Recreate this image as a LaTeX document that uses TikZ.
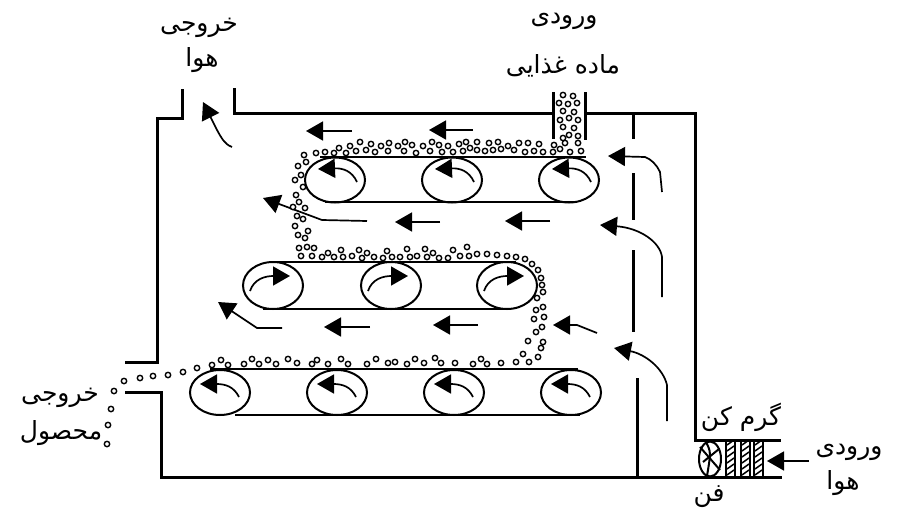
\documentclass[tikz,border=0pt]{standalone}
\usepackage{fontspec}
\newfontfamily\persianfont[Script=Arabic]{DejaVu Sans}
\TeXXeTstate=1
\usetikzlibrary{arrows.meta}
\newcommand{\fa}[1]{\persianfont\beginR #1\endR}
\begin{document}
\begin{tikzpicture}[x=1pt, y=-1pt,
    every node/.style={font=\fontsize{25}{28}\selectfont, inner sep=0pt},
    wall/.style={line width=3pt},
    belt/.style={line width=2pt},
    flow/.style={line width=1.7pt, -{Triangle[length=17pt,width=19pt]}},
    grain/.style={draw, fill=white, line width=1.4pt}]
  \useasboundingbox (0,0) rectangle (900,512);

  % outer walls
  \draw[wall] (182,89) -- (182,118) -- (157,118) -- (157,362) -- (125,362);
  \draw[wall] (125,392) -- (161,392) -- (161,477) -- (782,477);
  \draw[wall] (234,88) -- (234,113) -- (553,113);
  \draw[wall] (585,113) -- (695,113) -- (695,440) -- (781,440);
  \draw[wall] (553,92) -- (553,139);
  \draw[wall] (585,92) -- (585,140);

  % baffle
  \draw[wall] (633,114) -- (633,139);
  \draw[wall] (633,173) -- (633,220);
  \draw[wall] (633,250) -- (633,332);
  \draw[wall] (637,378) -- (637,477);

  % top conveyor
  \foreach \cx in {335,452,569} {
    \draw[belt] (\cx,180) ellipse (30 and 22.5);
    \draw[flow] ({\cx+22},182) .. controls ({\cx+17},171) and ({\cx+8},168) .. ({\cx-17},169);
  }
  \draw[belt] (320,157) -- (586,157);
  \draw[belt] (325,202) -- (577,202);

  % middle conveyor
  \foreach \cx in {273,391,507} {
    \draw[belt] (\cx,285.5) ellipse (30 and 23.5);
    \draw[flow] ({\cx-23},291) .. controls ({\cx-19},279) and ({\cx-8},276) .. ({\cx+17},276);
  }
  \draw[belt] (270,262) -- (516,262);
  \draw[belt] (263,309) -- (508,309);

  % bottom conveyor
  \foreach \cx in {220,337,454,571} {
    \draw[belt] (\cx,392.5) ellipse (30 and 22.5);
    \draw[flow] ({\cx+19},397) .. controls ({\cx+14},387) and ({\cx+6},384) .. ({\cx-20},384);
  }
  \draw[belt] (210,369) -- (578,369);
  \draw[belt] (235,415) -- (580,415);

  % air flow
  \draw[flow] (352,131) -- (306,131);
  \draw[flow] (473,130) -- (429,130);
  \draw[flow] (367,221) -- (322,220) -- (263,198);
  \draw[flow] (440,222) -- (395,222);
  \draw[flow] (550,221) -- (505,221);
  \draw[flow] (282,328) -- (257,328) -- (218,302);
  \draw[flow] (370,327) -- (324,327);
  \draw[flow] (478,325) -- (433,325);
  \draw[flow] (597,333) -- (577,325) -- (553,325);
  \draw[flow] (662,192) -- (660,172) .. controls (657,165) and (651,159) .. (645,157) -- (608,156);
  \draw[flow] (662,297) -- (662,257) .. controls (660,242) and (640,228) .. (600,225);
  \draw[flow] (667,421) -- (667,385) .. controls (663,368) and (645,354) .. (614,348);
  \draw[flow] (232,147) .. controls (224,144) and (221,137) .. (217,130) -- (203,102);
  \draw[flow] (809,461) -- (767,461);

  % fan and heater
  \draw[belt] (710,459) ellipse (11 and 17.5);
  \draw[belt] (706,442) .. controls (711,452) .. (707,476);
  \draw[belt] (700,447) -- (720,470);
  \draw[belt] (719,449) -- (703,462);
  \foreach \hx in {726,741,754} {
    \draw[belt] (\hx,441) -- (\hx,477);
    \draw[belt] ({\hx+9},441) -- ({\hx+9},477);
    \foreach \hy in {445,451,...,475}
      \draw[line width=1.5pt] ({\hx+1},\hy) -- ({\hx+8},{\hy-5});
  }

  % grains
  \foreach \gx/\gy in {304/155,306/162,298/166,316/153,325/152,334/153,339/148,346/153,350/146,356/151,
    360/142,366/150,371/144,375/152,381/146,389/143,388/151,398/146,404/151,405/142,412/145,416/153,
    423/146,430/151,432/142,439/145,442/152,448/146,453/152,459/144,466/142,463/151,470/148,477/142,
    477/150,485/151,489/143,493/150,498/142,501/149,508/146,514/150,519/143,525/152,528/143,534/151,
    539/144,543/152,553/152,554/145,560/149,565/143,570/152,578/143,581/151,569/135,563/138,578/136,
    574/128,563/127,578/120,569/118,560/120,574/112,563/111,559/103,568/104,577/103,573/96,563/95,
    301/175,295/180,303/187,296/195,299/202,293/207,305/208,297/216,303/219,295/226,308/231,298/235,
    305/238,299/248,307/247,314/248,301/256,312/256,322/257,328/253,334/257,341/250,343/257,352/256,
    359/250,362/258,367/253,374/257,383/258,387/251,392/257,400/257,407/249,410/257,417/256,425/249,
    427/257,433/253,439/258,448/258,453/250,460/256,467/247,469/256,477/254,487/254,497/255,507/256,
    516/257,525/259,532/264,538/270,541/278,542/285,543/292,537/298,543/307,536/310,544/317,534/319,
    542/327,536/332,543/342,528/341,541/348,523/354,538/357,529/362,516/362,501/363,487/364,481/359,
    473/364,455/363,441/363,435/358,424/363,415/359,407/364,395/362,388/363,376/359,367/364,348/364,
    341/359,328/364,317/360,312/364,297/363,288/359,276/364,268/360,259/364,252/359,244/364,228/365,
    221/360,212/365,197/368,183/372,168/375,153/376,140/378,124/381,114/391,111/409,108/425,107/444}
    \draw[grain] (\gx,\gy) circle (2.7);

  % labels
  \node (airoutA) at (199,28) {\fa{خروجی}};
  \node (airoutB) at (202,60) {\fa{هوا}};
  \node (feedA) at (564,21) {\fa{ورودی}};
  \node (feedB) at (563,66) {\fa{ماده غذایی}};
  \node (prodA) at (60,398) {\fa{خروجی}};
  \node (prodB) at (61,433) {\fa{محصول}};
  \node (heater) at (741,417) {\fa{گرم کن}};
  \node (airinA) at (849,452) {\fa{ورودی}};
  \node (airinB) at (843,483) {\fa{هوا}};
  \node (fan) at (709,497) {\fa{فن}};
\end{tikzpicture}
\end{document}
